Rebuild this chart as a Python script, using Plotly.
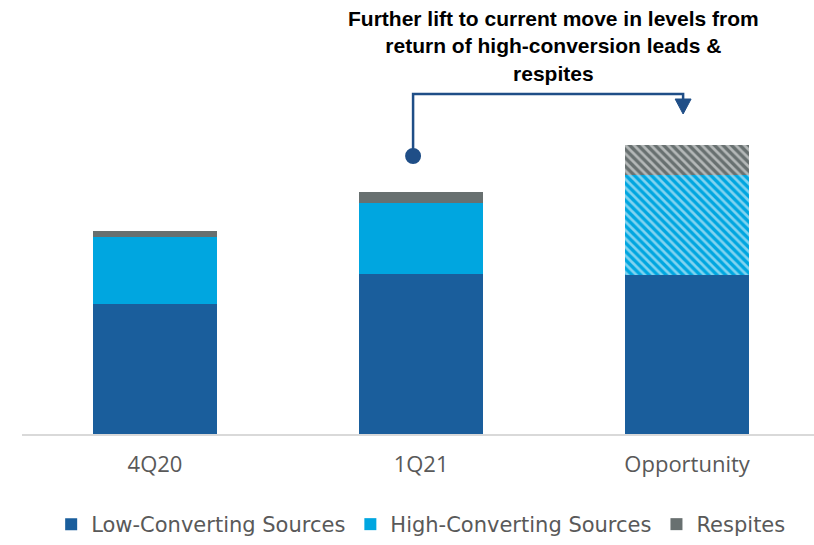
import plotly.graph_objects as go

# Stacked components per period
categories = ["4Q20", "1Q21", "Opportunity"]
low_converting = [130, 160, 159]
high_converting = [67, 71, 100]
respites = [6, 11, 30]

series_names = ["Low-Converting Sources", "High-Converting Sources", "Respites"]
series_colors = ["#1A5E9C", "#00A6E0", "#687070"]
# the last category is a projection, shown with a hatch
hatch_shapes = ["", "", "\\"]

x_pos = list(range(len(categories)))

fig = go.Figure()
for name, vals, col in zip(series_names, [low_converting, high_converting, respites], series_colors):
    is_proj = name != "Low-Converting Sources"
    pattern = dict(
        shape=hatch_shapes if is_proj else "",
        fgcolor="white",
        bgcolor=col,
        size=6,
        solidity=0.45,
    )
    fig.add_trace(go.Bar(
        x=x_pos, y=vals, name=name,
        width=0.466,
        marker=dict(color=col, line=dict(width=0), pattern=pattern),
        hoverinfo="skip",
    ))

line_col = "#1F4E87"
# elbow connector from the 1Q21 bar to the opportunity bar
x0, x1 = 0.970, 1.985
fig.add_shape(type="path", xref="x", yref="y",
              path=f"M {x0},278 L {x0},340 L {x1},340 L {x1},334",
              line=dict(color=line_col, width=2.5))
fig.add_shape(type="path", xref="x", yref="y",
              path=f"M {x1-0.030},335 L {x1+0.030},335 L {x1},320 Z",
              fillcolor=line_col, line=dict(color=line_col, width=1))
fig.add_shape(type="circle", xref="x", yref="y",
              x0=x0-0.030, x1=x0+0.030, y0=270, y1=286,
              fillcolor=line_col, line=dict(color=line_col, width=0))

fig.add_annotation(
    x=1.496, y=388, xref="x", yref="y",
    text="<b>Further lift to current move in levels from<br>return of high-conversion leads &<br>respites</b>",
    showarrow=False, align="center", xanchor="center", yanchor="middle",
    font=dict(family="Liberation Sans, Arial", size=21, color="#000000"),
)

fig.update_layout(
    barmode="stack",
    width=814, height=545,
    margin=dict(l=22, r=0, t=0, b=0),
    paper_bgcolor="white", plot_bgcolor="white",
    showlegend=True,
    legend=dict(
        orientation="h", x=0.504, y=0, xanchor="center", yanchor="bottom",
        font=dict(family="DejaVu Sans", size=21, color="#595959"),
        traceorder="normal",
        itemwidth=30,
    ),
    xaxis=dict(
        range=[-0.5, 2.477],
        tickvals=x_pos, ticktext=categories,
        showline=True, linecolor="#D9D9D9", linewidth=1.5,
        showgrid=False, zeroline=False, ticks="",
        tickfont=dict(family="Open Sans", size=22, color="#595959"),
        ticklabelstandoff=10,
        fixedrange=True,
    ),
    yaxis=dict(
        range=[0, 434], domain=[111 / 545, 1],
        visible=False, showgrid=False, zeroline=False,
        fixedrange=True,
    ),
)

fig.write_html("out.html")
